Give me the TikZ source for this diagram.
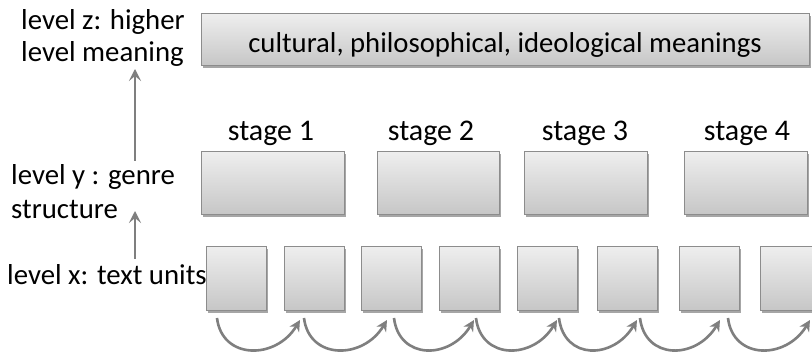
\documentclass[tikz,border=0pt]{standalone}
\usepackage{fontspec}
\setmainfont{Carlito}
\usetikzlibrary{arrows.meta,shadows,calc}
\definecolor{boxtop}{HTML}{EEEEEE}
\definecolor{boxbot}{HTML}{C6C6C6}
\definecolor{boxline}{HTML}{8C8C8C}
\definecolor{agray}{HTML}{7F7F7F}
\begin{document}
\begin{tikzpicture}[x=1pt,y=-1pt,
  box/.style={draw=boxline, line width=1pt, top color=boxtop, bottom color=boxbot,
    drop shadow={shadow xshift=1.5pt, shadow yshift=-2pt, opacity=0.35, fill=black},
    inner sep=0pt, outer sep=0pt},
  unitbox/.style={box, minimum width=60, minimum height=64},
  stagebox/.style={box, minimum height=63},
  lab/.style={font=\fontsize{28.8}{32}\selectfont, inner sep=0pt, text=black},
  stlab/.style={font=\fontsize{30}{33}\selectfont, inner sep=0pt, text=black},
  toplab/.style={font=\fontsize{28.7}{32}\selectfont, inner sep=0pt, text=black},
  garrow/.style={draw=agray, line width=2.6pt, -{Stealth[length=12pt,width=12pt,inset=5pt]}},
  carrow/.style={draw=agray, line width=2.6pt, -{Stealth[length=11pt,width=11pt,inset=3.5pt]}}]
\clip (0,0) rectangle (812,355);
\fill[white] (0,0) rectangle (812,355);

% top level
\node[box, minimum width=608, minimum height=52] (top) at (505,40) {};
\node[toplab, anchor=base] (toptxt) at (top.center |- 0,53) {cultural, philosophical, ideological meanings};

% stage boxes
\node[stagebox, minimum width=143] (s1) at (272.5,183.5) {};
\node[stagebox, minimum width=122] (s2) at (438,183.5) {};
\node[stagebox, minimum width=123] (s3) at (585.5,183.5) {};
\node[stagebox, minimum width=123] (s4) at (745.5,183.5) {};
\node[stlab, anchor=base] (st1) at (271,141) {stage 1};
\node[stlab, anchor=base] (st2) at (431,141) {stage 2};
\node[stlab, anchor=base] (st3) at (585,141) {stage 3};
\node[stlab, anchor=base] (st4) at (747,141) {stage 4};

% text units
\node[unitbox] (u1) at (236,279) {};
\node[unitbox] (u2) at (314,279) {};
\node[unitbox] (u3) at (391.5,279) {};
\node[unitbox] (u4) at (469.5,279) {};
\node[unitbox] (u5) at (547,279) {};
\node[unitbox] (u6) at (627,279) {};
\node[unitbox] (u7) at (709,279) {};
\node[unitbox] (u8) at (790,279) {};

% left labels
\node[lab, anchor=base west] (zl1) at (21,30) {level z: higher};
\node[lab, anchor=base west] (zl2) at (21,62) {level meaning};
\node[lab, anchor=base west] (yl1) at (11,185) {level y : genre};
\node[lab, anchor=base west] (yl2) at (11,219) {structure};
\node[lab, anchor=base west] (xl1) at (7,285) {level x: text units};

% vertical arrows
\coordinate (a1b) at (135,161);
\coordinate (a1t) at (135,69);
\coordinate (a2b) at (135,259);
\coordinate (a2t) at (135,211);
\draw[garrow] (a1b) -- (a1t);
\draw[garrow] (a2b) -- (a2t);

% bottom arcs
\foreach \i/\xs/\xt in {1/217/300, 2/304/387, 3/394/474, 4/476/557, 5/559/637, 6/640/720, 7/728/810}{
  \coordinate (cs\i) at (\xs,318);
  \coordinate (ct\i) at (\xt,320);
  \draw[carrow] (cs\i) .. controls ($(cs\i)+(5,42)$) and ($(ct\i)+(-24,40)$) .. (ct\i);
}
\end{tikzpicture}
\end{document}
